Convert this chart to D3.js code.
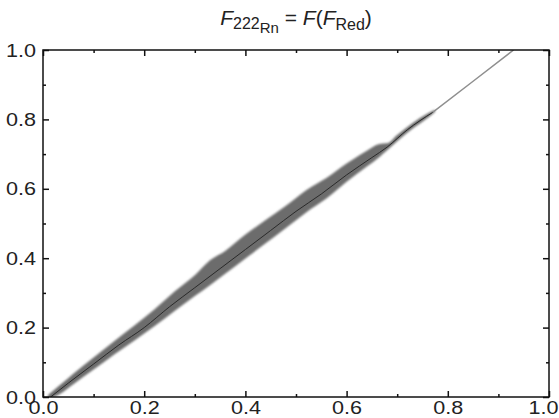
<!DOCTYPE html>
<html>
<head>
<meta charset="utf-8">
<script src="https://cdn.jsdelivr.net/npm/d3@7/dist/d3.min.js"></script>
<style>
  html, body { margin: 0; padding: 0; background: #fff; }
  svg { display: block; font-family: "Liberation Sans", Arial, sans-serif; }
</style>
</head>
<body>
<svg id="chart" width="559" height="418"></svg>
<script>
// ---- data ----
const xMajorTicks = [0.0, 0.2, 0.4, 0.6, 0.8, 1.0];
const yMajorTicks = [0.0, 0.2, 0.4, 0.6, 0.8, 1.0];
const minorTicks = [0.1, 0.3, 0.5, 0.7, 0.9];

// central (fitted) curve F_222Rn vs F_Red
const lineRed = [0.015, 0.05, 0.10, 0.15, 0.20, 0.25, 0.30, 0.35, 0.40, 0.45, 0.50, 0.55, 0.60, 0.65, 0.68, 0.72, 0.77, 0.85, 0.93];
const lineRn  = [0.000, 0.040, 0.095, 0.150, 0.200, 0.260, 0.315, 0.370, 0.425, 0.480, 0.535, 0.585, 0.640, 0.690, 0.720, 0.770, 0.820, 0.910, 1.000];

// scatter band envelope
const bandRed   = [0.010, 0.030, 0.060, 0.100, 0.140, 0.180, 0.220, 0.260, 0.300, 0.330, 0.360, 0.400, 0.440, 0.480, 0.520, 0.560, 0.600, 0.640, 0.665, 0.680, 0.700, 0.730, 0.760, 0.775];
const bandUpper = [0.006, 0.030, 0.067, 0.114, 0.160, 0.205, 0.252, 0.304, 0.351, 0.394, 0.421, 0.468, 0.510, 0.551, 0.596, 0.631, 0.673, 0.710, 0.729, 0.731, 0.755, 0.789, 0.817, 0.828];
const bandLower = [-0.006, 0.006, 0.037, 0.079, 0.122, 0.162, 0.204, 0.248, 0.291, 0.322, 0.355, 0.399, 0.443, 0.487, 0.532, 0.572, 0.620, 0.664, 0.692, 0.711, 0.737, 0.773, 0.804, 0.822];

// ---- layout ----
const W = 559, H = 418;
const margin = { left: 43, right: 10, top: 50, bottom: 21 };
const svg = d3.select("#chart");
const iw = W - margin.left - margin.right;
const ih = H - margin.top - margin.bottom;

const x = d3.scaleLinear().domain([0, 1]).range([margin.left, margin.left + iw]);
const y = d3.scaleLinear().domain([0, 1]).range([margin.top + ih, margin.top]);

const defs = svg.append("defs");
defs.append("clipPath").attr("id", "clip")
  .append("rect").attr("x", margin.left).attr("y", margin.top).attr("width", iw).attr("height", ih);
defs.append("filter").attr("id", "soft")
  .append("feGaussianBlur").attr("stdDeviation", 0.8);

const plot = svg.append("g").attr("clip-path", "url(#clip)");

// band
const bandData = bandRed.map((v, i) => ({ x: v, lo: bandLower[i], hi: bandUpper[i] }));
plot.append("path")
  .datum(bandData)
  .attr("d", d3.area().x(d => x(d.x)).y0(d => y(d.lo)).y1(d => y(d.hi)).curve(d3.curveMonotoneX))
  .attr("fill", "#6c6c6c")
  .attr("filter", "url(#soft)");

// central line
const lineData = lineRed.map((v, i) => ({ x: v, y: lineRn[i] }));
const ln = d3.line().x(d => x(d.x)).y(d => y(d.y)).curve(d3.curveMonotoneX);
plot.append("path")
  .datum(lineData.filter(d => d.x >= 0.77))
  .attr("d", d3.line().x(d => x(d.x)).y(d => y(d.y)))
  .attr("fill", "none")
  .attr("stroke", "#8f8f8f")
  .attr("stroke-width", 1.5);
plot.append("path")
  .datum(lineData.filter(d => d.x <= 0.77))
  .attr("d", ln)
  .attr("fill", "none")
  .attr("stroke", "#2a2a2a")
  .attr("stroke-width", 1);

// ---- axes (ticks inward on all four sides) ----
function styleAxis(g) {
  g.select(".domain").remove();
  g.selectAll(".tick line").attr("stroke", "#111").attr("stroke-width", 1.5);
  g.selectAll(".tick text").attr("fill", "#222").style("font-size", "19px")
    .style("font-family", "'Liberation Sans', Arial, sans-serif")
    .attr("textLength", 30).attr("lengthAdjust", "spacingAndGlyphs");
}
const fmt = d3.format(".1f");

const xAxisG = svg.append("g").attr("transform", `translate(0,${margin.top + ih})`)
  .call(d3.axisBottom(x).tickValues(xMajorTicks).tickFormat(fmt).tickSize(-6).tickPadding(4))
  .call(styleAxis);
// keep the last label inside the picture
xAxisG.selectAll(".tick text").filter(d => d === 1).attr("dx", -6);

svg.append("g").attr("transform", `translate(0,${margin.top + ih})`)
  .call(d3.axisBottom(x).tickValues(minorTicks).tickFormat("").tickSize(-3))
  .call(styleAxis);
svg.append("g").attr("transform", `translate(0,${margin.top})`)
  .call(d3.axisTop(x).tickValues(xMajorTicks).tickFormat("").tickSize(-6))
  .call(styleAxis);
svg.append("g").attr("transform", `translate(0,${margin.top})`)
  .call(d3.axisTop(x).tickValues(minorTicks).tickFormat("").tickSize(-3))
  .call(styleAxis);

svg.append("g").attr("transform", `translate(${margin.left},0)`)
  .call(d3.axisLeft(y).tickValues(yMajorTicks).tickFormat(fmt).tickSize(-6).tickPadding(7))
  .call(styleAxis);
svg.append("g").attr("transform", `translate(${margin.left},0)`)
  .call(d3.axisLeft(y).tickValues(minorTicks).tickFormat("").tickSize(-3))
  .call(styleAxis);
svg.append("g").attr("transform", `translate(${margin.left + iw},0)`)
  .call(d3.axisRight(y).tickValues(yMajorTicks).tickFormat("").tickSize(-6))
  .call(styleAxis);
svg.append("g").attr("transform", `translate(${margin.left + iw},0)`)
  .call(d3.axisRight(y).tickValues(minorTicks).tickFormat("").tickSize(-3))
  .call(styleAxis);

// frame
svg.append("rect")
  .attr("x", margin.left).attr("y", margin.top)
  .attr("width", iw).attr("height", ih)
  .attr("fill", "none").attr("stroke", "#111").attr("stroke-width", 1.5);

// ---- title: F_{222_Rn} = F(F_Red) ----
const title = svg.append("text")
  .attr("x", x(0.5)).attr("y", 25)
  .attr("text-anchor", "middle")
  .attr("fill", "#222")
  .style("font-size", "21px");
title.append("tspan").style("font-style", "italic").text("F");
title.append("tspan").attr("dy", 4).style("font-size", "16px").text("222");
title.append("tspan").attr("dy", 4).style("font-size", "15px").text("Rn");
title.append("tspan").attr("dy", -8).text(" = ");
title.append("tspan").style("font-style", "italic").text("F");
title.append("tspan").text("(");
title.append("tspan").style("font-style", "italic").text("F");
title.append("tspan").attr("dy", 5).style("font-size", "16px").text("Red");
title.append("tspan").attr("dy", -5).text(")");
</script>
</body>
</html>
